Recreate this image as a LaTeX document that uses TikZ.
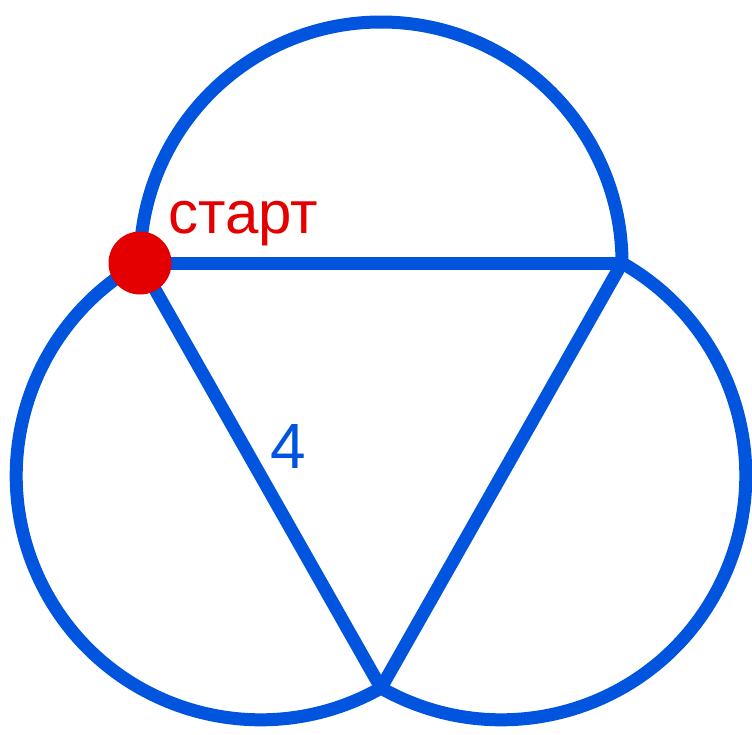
\documentclass[tikz,border=0pt]{standalone}
\usepackage{fontspec}
\setmainfont{Liberation Sans}
\definecolor{eblue}{RGB}{0,84,221}
\definecolor{ered}{RGB}{228,0,0}
\begin{document}
\begin{tikzpicture}[x=1pt,y=1pt,
  edge/.style={draw=eblue,line width=13pt,line cap=round,line join=round},
  lbl/.style={inner sep=0pt,font=\fontsize{60}{60}\selectfont}]
\useasboundingbox (0,0) rectangle (752,-734);
\coordinate (A) at (140,-263);
\coordinate (B) at (622,-263);
\coordinate (C) at (381,-688);
% arcs
\draw[edge] (B) arc[start angle=0,end angle=180,radius=241];
\draw[edge] (A) arc[start angle=119.56,end angle=299.56,radius=244.3];
\draw[edge] (B) arc[start angle=60.44,end angle=-119.56,radius=244.3];
% triangle
\draw[edge] (A) -- (B);
\draw[edge] (A) -- (C);
\draw[edge] (B) -- (C);
% start dot
\node[circle,fill=ered,minimum size=63pt,inner sep=0pt] (s) at (A) {};
\node[lbl,text=ered,anchor=base west] (t) at (168,-233) {старт};
\node[lbl,text=eblue,anchor=base,font=\fontsize{64}{64}\selectfont] (n) at (288,-468) {4};
\end{tikzpicture}
\end{document}
